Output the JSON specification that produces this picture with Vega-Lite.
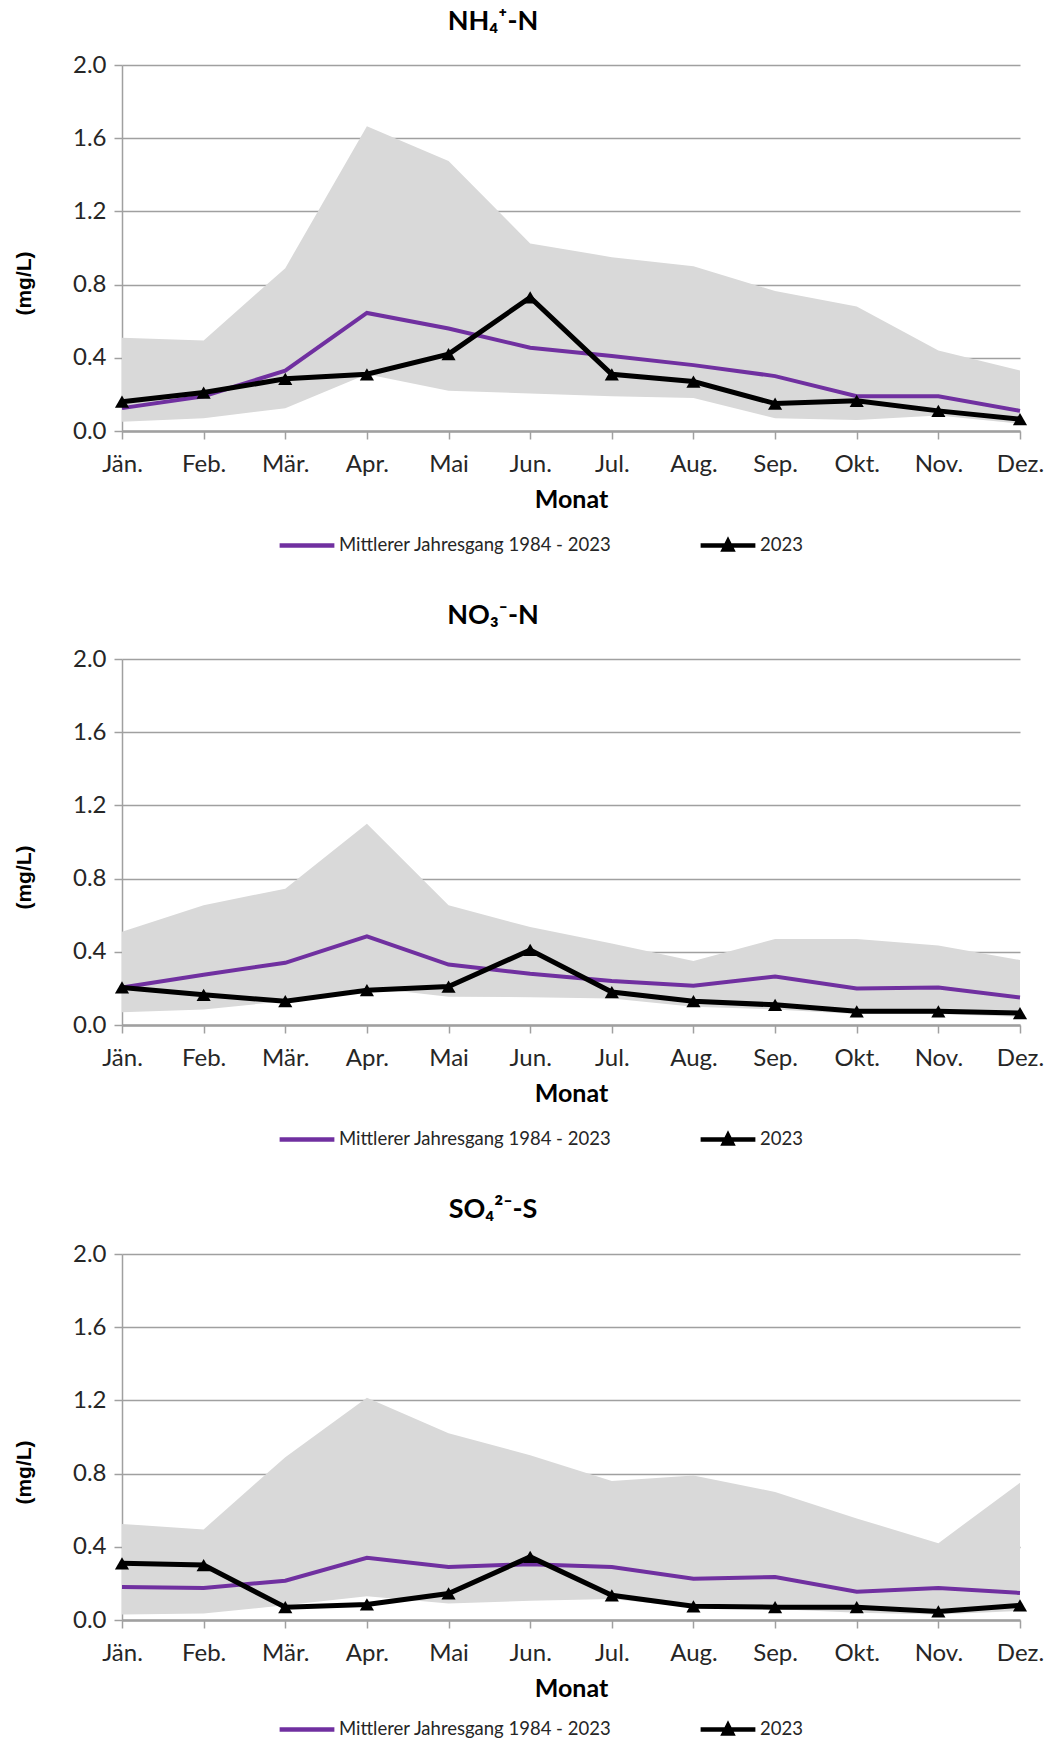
{
  "$schema": "https://vega.github.io/schema/vega-lite/v6.json",
  "background": "white",
  "padding": {"left": 13, "top": 8, "right": 5, "bottom": 0},
  "datasets": {
    "nh4": [
      {"Monat": "Jän.", "min": 0.05, "max": 0.51, "mittel": 0.125, "v2023": 0.16},
      {"Monat": "Feb.", "min": 0.07, "max": 0.495, "mittel": 0.19, "v2023": 0.21},
      {"Monat": "Mär.", "min": 0.125, "max": 0.89, "mittel": 0.33, "v2023": 0.285},
      {"Monat": "Apr.", "min": 0.31, "max": 1.665, "mittel": 0.645, "v2023": 0.31},
      {"Monat": "Mai", "min": 0.22, "max": 1.475, "mittel": 0.56, "v2023": 0.42},
      {"Monat": "Jun.", "min": 0.205, "max": 1.025, "mittel": 0.455, "v2023": 0.73},
      {"Monat": "Jul.", "min": 0.19, "max": 0.95, "mittel": 0.41, "v2023": 0.31},
      {"Monat": "Aug.", "min": 0.18, "max": 0.9, "mittel": 0.36, "v2023": 0.27},
      {"Monat": "Sep.", "min": 0.07, "max": 0.765, "mittel": 0.3, "v2023": 0.15},
      {"Monat": "Okt.", "min": 0.06, "max": 0.68, "mittel": 0.19, "v2023": 0.165},
      {"Monat": "Nov.", "min": 0.085, "max": 0.44, "mittel": 0.19, "v2023": 0.11},
      {"Monat": "Dez.", "min": 0.04, "max": 0.33, "mittel": 0.11, "v2023": 0.065}
    ],
    "no3": [
      {"Monat": "Jän.", "min": 0.07, "max": 0.51, "mittel": 0.205, "v2023": 0.205},
      {"Monat": "Feb.", "min": 0.085, "max": 0.655, "mittel": 0.275, "v2023": 0.165},
      {"Monat": "Mär.", "min": 0.13, "max": 0.745, "mittel": 0.34, "v2023": 0.13},
      {"Monat": "Apr.", "min": 0.205, "max": 1.1, "mittel": 0.485, "v2023": 0.19},
      {"Monat": "Mai", "min": 0.155, "max": 0.655, "mittel": 0.33, "v2023": 0.21},
      {"Monat": "Jun.", "min": 0.152, "max": 0.535, "mittel": 0.28, "v2023": 0.41},
      {"Monat": "Jul.", "min": 0.145, "max": 0.445, "mittel": 0.24, "v2023": 0.18},
      {"Monat": "Aug.", "min": 0.1, "max": 0.35, "mittel": 0.215, "v2023": 0.13},
      {"Monat": "Sep.", "min": 0.085, "max": 0.47, "mittel": 0.265, "v2023": 0.11},
      {"Monat": "Okt.", "min": 0.06, "max": 0.47, "mittel": 0.2, "v2023": 0.075},
      {"Monat": "Nov.", "min": 0.06, "max": 0.435, "mittel": 0.205, "v2023": 0.075},
      {"Monat": "Dez.", "min": 0.045, "max": 0.355, "mittel": 0.15, "v2023": 0.065}
    ],
    "so4": [
      {"Monat": "Jän.", "min": 0.03, "max": 0.525, "mittel": 0.18, "v2023": 0.31},
      {"Monat": "Feb.", "min": 0.035, "max": 0.495, "mittel": 0.175, "v2023": 0.3},
      {"Monat": "Mär.", "min": 0.08, "max": 0.89, "mittel": 0.215, "v2023": 0.07},
      {"Monat": "Apr.", "min": 0.13, "max": 1.215, "mittel": 0.34, "v2023": 0.085},
      {"Monat": "Mai", "min": 0.09, "max": 1.02, "mittel": 0.29, "v2023": 0.145},
      {"Monat": "Jun.", "min": 0.105, "max": 0.9, "mittel": 0.305, "v2023": 0.345},
      {"Monat": "Jul.", "min": 0.115, "max": 0.76, "mittel": 0.29, "v2023": 0.135},
      {"Monat": "Aug.", "min": 0.07, "max": 0.79, "mittel": 0.225, "v2023": 0.075},
      {"Monat": "Sep.", "min": 0.06, "max": 0.7, "mittel": 0.235, "v2023": 0.07},
      {"Monat": "Okt.", "min": 0.04, "max": 0.555, "mittel": 0.155, "v2023": 0.07},
      {"Monat": "Nov.", "min": 0.03, "max": 0.42, "mittel": 0.175, "v2023": 0.047},
      {"Monat": "Dez.", "min": 0.05, "max": 0.75, "mittel": 0.148, "v2023": 0.08}
    ]
  },
  "spacing": 43,
  "resolve": {"scale": {"color": "independent"}, "legend": {"color": "independent"}},
  "vconcat": [
    {
      "width": 898, "height": 366,
      "data": {"name": "nh4"},
      "title": {"text": "NH₄⁺-N", "frame": "group", "anchor": "middle", "dx": -78, "baseline": "alphabetic", "offset": -4},
      "layer": [
        {"mark": {"type": "area", "color": "#d9d9d9", "opacity": 1},
         "encoding": {
           "x": {"field": "Monat", "type": "ordinal", "sort": null, "scale": {"type": "point", "padding": 0}, "axis": {"title": "Monat", "labelAngle": 0, "grid": false}},
           "y": {"field": "max", "type": "quantitative", "scale": {"domain": [0, 2]}, "axis": {"title": "(mg/L)", "values": [0, 0.4, 0.8, 1.2, 1.6, 2.0], "format": ".1f"}},
           "y2": {"field": "min"}}},
        {"mark": {"type": "line", "strokeWidth": 4},
         "encoding": {
           "x": {"field": "Monat", "type": "ordinal", "sort": null},
           "y": {"field": "mittel", "type": "quantitative"},
           "color": {"datum": "Mittlerer Jahresgang 1984 - 2023",
             "scale": {"domain": ["Mittlerer Jahresgang 1984 - 2023", "2023"], "range": ["#7030a0", "#000000"]},
             "legend": {"orient": "none", "legendX": 155, "legendY": 450,
               "encode": {"symbols": {"update": {"shape": {"signal": "datum.value === '2023' ? 'M-1,0H1M-0.15,0.15L0,-0.15L0.15,0.15Z' : 'M-1,0H1M0,-0.15L0,-0.15M0,0.15L0,0.15'"}, "fill": {"value": "#000000"}}}}}}}},
        {"mark": {"type": "line", "strokeWidth": 5, "point": {"shape": "triangle-up", "size": 200, "filled": true, "color": "#000000", "opacity": 1}},
         "encoding": {
           "x": {"field": "Monat", "type": "ordinal", "sort": null},
           "y": {"field": "v2023", "type": "quantitative"},
           "color": {"datum": "2023"}}}
      ]
    },
    {
      "width": 898, "height": 366,
      "data": {"name": "no3"},
      "title": {"text": "NO₃⁻-N", "frame": "group", "anchor": "middle", "dx": -78, "baseline": "alphabetic", "offset": -4},
      "layer": [
        {"mark": {"type": "area", "color": "#d9d9d9", "opacity": 1},
         "encoding": {
           "x": {"field": "Monat", "type": "ordinal", "sort": null, "scale": {"type": "point", "padding": 0}, "axis": {"title": "Monat", "labelAngle": 0, "grid": false}},
           "y": {"field": "max", "type": "quantitative", "scale": {"domain": [0, 2]}, "axis": {"title": "(mg/L)", "values": [0, 0.4, 0.8, 1.2, 1.6, 2.0], "format": ".1f"}},
           "y2": {"field": "min"}}},
        {"mark": {"type": "line", "strokeWidth": 4},
         "encoding": {
           "x": {"field": "Monat", "type": "ordinal", "sort": null},
           "y": {"field": "mittel", "type": "quantitative"},
           "color": {"datum": "Mittlerer Jahresgang 1984 - 2023",
             "scale": {"domain": ["Mittlerer Jahresgang 1984 - 2023", "2023"], "range": ["#7030a0", "#000000"]},
             "legend": {"orient": "none", "legendX": 155, "legendY": 450,
               "encode": {"symbols": {"update": {"shape": {"signal": "datum.value === '2023' ? 'M-1,0H1M-0.15,0.15L0,-0.15L0.15,0.15Z' : 'M-1,0H1M0,-0.15L0,-0.15M0,0.15L0,0.15'"}, "fill": {"value": "#000000"}}}}}}}},
        {"mark": {"type": "line", "strokeWidth": 5, "point": {"shape": "triangle-up", "size": 200, "filled": true, "color": "#000000", "opacity": 1}},
         "encoding": {
           "x": {"field": "Monat", "type": "ordinal", "sort": null},
           "y": {"field": "v2023", "type": "quantitative"},
           "color": {"datum": "2023"}}}
      ]
    },
    {
      "width": 898, "height": 366,
      "data": {"name": "so4"},
      "title": {"text": "SO₄²⁻-S", "frame": "group", "anchor": "middle", "dx": -78, "baseline": "alphabetic", "offset": -3},
      "layer": [
        {"mark": {"type": "area", "color": "#d9d9d9", "opacity": 1},
         "encoding": {
           "x": {"field": "Monat", "type": "ordinal", "sort": null, "scale": {"type": "point", "padding": 0}, "axis": {"title": "Monat", "labelAngle": 0, "grid": false}},
           "y": {"field": "max", "type": "quantitative", "scale": {"domain": [0, 2]}, "axis": {"title": "(mg/L)", "values": [0, 0.4, 0.8, 1.2, 1.6, 2.0], "format": ".1f"}},
           "y2": {"field": "min"}}},
        {"mark": {"type": "line", "strokeWidth": 4},
         "encoding": {
           "x": {"field": "Monat", "type": "ordinal", "sort": null},
           "y": {"field": "mittel", "type": "quantitative"},
           "color": {"datum": "Mittlerer Jahresgang 1984 - 2023",
             "scale": {"domain": ["Mittlerer Jahresgang 1984 - 2023", "2023"], "range": ["#7030a0", "#000000"]},
             "legend": {"orient": "none", "legendX": 155, "legendY": 445,
               "encode": {"symbols": {"update": {"shape": {"signal": "datum.value === '2023' ? 'M-1,0H1M-0.15,0.15L0,-0.15L0.15,0.15Z' : 'M-1,0H1M0,-0.15L0,-0.15M0,0.15L0,0.15'"}, "fill": {"value": "#000000"}}}}}}}},
        {"mark": {"type": "line", "strokeWidth": 5, "point": {"shape": "triangle-up", "size": 200, "filled": true, "color": "#000000", "opacity": 1}},
         "encoding": {
           "x": {"field": "Monat", "type": "ordinal", "sort": null},
           "y": {"field": "v2023", "type": "quantitative"},
           "color": {"datum": "2023"}}}
      ]
    }
  ],
  "config": {
    "font": "Lato",
    "view": {"stroke": null},
    "title": {"font": "Lato", "fontWeight": "bold", "fontSize": 27, "color": "#000000"},
    "axis": {
      "labelFont": "Lato", "labelFontSize": 24, "labelColor": "#262626",
      "domainColor": "#a0a0a0", "tickColor": "#a0a0a0", "gridColor": "#a0a0a0",
      "domainWidth": 1.5, "tickWidth": 1.5, "gridWidth": 1.3, "tickSize": 8
    },
    "axisX": {"titleFont": "Lato", "titleFontWeight": "bold", "titleFontSize": 25, "titleColor": "#000000", "labelPadding": 13, "titlePadding": 11, "domainWidth": 2.5},
    "axisY": {"titleFont": "Liberation Sans", "titleFontWeight": "bold", "titleFontSize": 21, "titleColor": "#000000", "titleX": -98, "titleY": 218, "titleAngle": 270, "titleAlign": "center", "titleBaseline": "middle", "labelPadding": 8, "grid": true},
    "legend": {
      "title": null, "direction": "horizontal", "symbolType": "stroke", "symbolSize": 3000, "symbolStrokeWidth": 4.5,
      "labelFont": "Lato", "labelFontSize": 18.5, "labelColor": "#262626", "labelOffset": 2, "columnPadding": 79, "labelLimit": 400
    }
  }
}
